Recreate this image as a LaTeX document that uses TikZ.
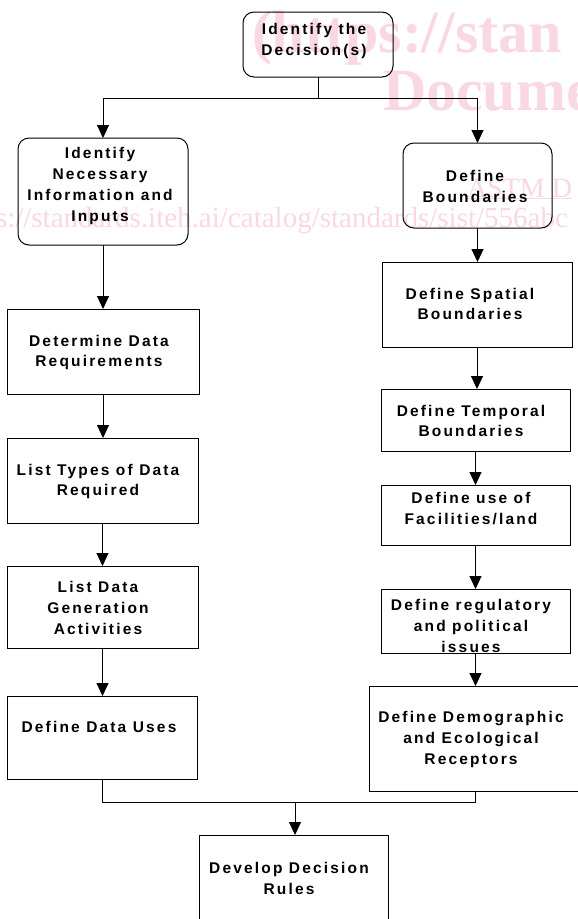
\documentclass[tikz,border=0pt]{standalone}
\usepackage{fontspec}
\setmainfont{Liberation Sans}
\newfontfamily\boxfont{Liberation Sans}[LetterSpace=14]
\newfontfamily\wmfont{Liberation Serif}
\usetikzlibrary{arrows.meta}
\definecolor{wm}{RGB}{250,216,226}
\begin{document}
\begin{tikzpicture}[x=1pt,y=-1pt,
  every node/.style={inner sep=0pt, outer sep=0pt},
  box/.style={draw, line width=1pt, rectangle},
  rbox/.style={box, rounded corners=11pt},
  txt/.style={font=\boxfont\bfseries\fontsize{15.5}{20.9}\selectfont, align=center},
  ln/.style={line width=1pt},
  arr/.style={line width=1pt, -{Triangle[length=13pt,width=12pt]}},
  wmtxt/.style={text=wm, anchor=base west}]
\useasboundingbox (0,0) rectangle (578,919);
\fill[white] (0,0) rectangle (578,919);

% watermark
\node[wmtxt, font=\wmfont\bfseries\fontsize{60}{60}\selectfont] (wm1) at (252,52) {(https://stan};
\node[wmtxt, font=\wmfont\bfseries\fontsize{60}{60}\selectfont] (wm2) at (383,110) {Docume};
\node[wmtxt, font=\wmfont\fontsize{28}{28}\selectfont] (wm3) at (467,197) {\underline{ASTM D}};
\node[wmtxt, font=\wmfont\fontsize{29}{29}\selectfont] (wm4) at (-4,227) {s://standards.iteh.ai/catalog/standards/sist/556abc};

% boxes
\node[rbox, minimum width=150pt, minimum height=65pt] (top) at (318,44.5) {};
\node[rbox, minimum width=170pt, minimum height=107pt] (idn) at (103,191.5) {};
\node[box, minimum width=192pt, minimum height=85pt] (det) at (103,351.5) {};
\node[box, minimum width=191pt, minimum height=85pt] (typ) at (102.5,480.5) {};
\node[box, minimum width=191pt, minimum height=82pt] (gen) at (102.5,607) {};
\node[box, minimum width=190pt, minimum height=83pt] (use) at (102,737.5) {};
\node[rbox, minimum width=149pt, minimum height=85pt] (dbd) at (477.5,185.5) {};
\node[box, minimum width=190pt, minimum height=85pt] (spa) at (477,304.5) {};
\node[box, minimum width=189pt, minimum height=62pt] (tmp) at (475.5,420) {};
\node[box, minimum width=189pt, minimum height=60pt] (fac) at (475.5,515) {};
\node[box, minimum width=189pt, minimum height=64pt] (reg) at (475.5,621) {};
\node[box, minimum width=213pt, minimum height=105pt] (dem) at (475.5,738.5) {};
\node[box, minimum width=189pt, minimum height=88pt] (dev) at (293.5,879) {};

% texts
\node[txt] (top-t) at (314,41) {Identify the\\Decision(s)};
\node[txt] (idn-t) at (100,186) {Identify\\Necessary\\Information and\\Inputs};
\node[txt] (det-t) at (99,352.5) {Determine Data\\Requirements};
\node[txt] (typ-t) at (98,481.5) {List Types of Data\\Required};
\node[txt] (gen-t) at (98,608) {List Data\\Generation\\Activities};
\node[txt] (use-t) at (99,727) {Define Data Uses};
\node[txt] (dbd-t) at (475,186.5) {Define\\Boundaries};
\node[txt] (spa-t) at (470,304) {Define Spatial\\Boundaries};
\node[txt] (tmp-t) at (471,421) {Define Temporal\\Boundaries};
\node[txt] (fac-t) at (471,508.5) {Define use of\\Facilities/land};
\node[txt] (reg-t) at (471,626) {Define regulatory\\and political\\issues};
\node[txt] (dem-t) at (471,739.5) {Define Demographic\\and Ecological\\Receptors};
\node[txt] (dev-t) at (289,878.5) {Develop Decision\\Rules};

% connectors
\coordinate (split) at (318,98);
\draw[ln] (top.south) -- (split);
\draw[arr] (split) -| (idn.north);
\draw[arr] (split) -| (dbd.north);
\draw[arr] (idn.south) -- (idn.south |- det.north);
\draw[arr] (det.south) -- (det.south |- typ.north);
\draw[arr] (typ.south) -- (typ.south |- gen.north);
\draw[arr] (gen.south) -- (gen.south |- use.north);
\draw[arr] (dbd.south) -- (dbd.south |- spa.north);
\draw[arr] (spa.south) -- (spa.south |- tmp.north);
\draw[arr] (tmp.south) -- (tmp.south |- fac.north);
\draw[arr] (fac.south) -- (fac.south |- reg.north);
\draw[arr] (reg.south) -- (reg.south |- dem.north);
\coordinate (merge) at (295,802);
\draw[ln] (use.south) |- (merge) -| (dem.south);
\draw[arr] (merge) -- (merge |- dev.north);
\end{tikzpicture}
\end{document}
